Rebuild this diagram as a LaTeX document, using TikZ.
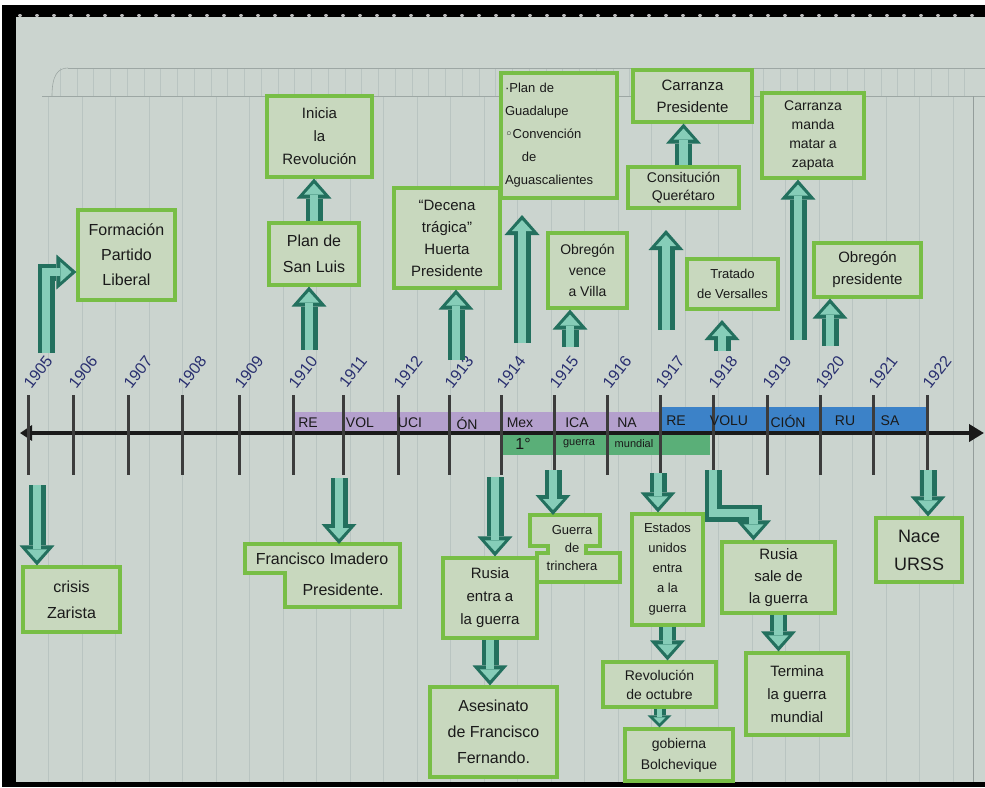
\documentclass[tikz,border=0pt]{standalone}
\usepackage{fontspec}
\setmainfont{Liberation Sans}
\newfontfamily\symf{DejaVu Sans}
\usetikzlibrary{arrows.meta}
\definecolor{paper}{HTML}{CBD4CF}
\definecolor{gridc}{HTML}{B9C4C1}
\definecolor{boxG}{HTML}{78BE46}
\definecolor{boxF}{HTML}{C8D8BE}
\definecolor{tealD}{HTML}{23705E}
\definecolor{tealL}{HTML}{86CDB8}
\definecolor{purp}{HTML}{B4A0CD}
\definecolor{blu}{HTML}{3C82C8}
\definecolor{grn}{HTML}{5AAF78}
\definecolor{ink}{HTML}{1A1A1A}
\definecolor{navy}{HTML}{2A3070}
\tikzset{
  fs/.style 2 args={font=\fontsize{#1}{#2}\selectfont},
  box/.style={draw=boxG, line width=3.2pt, fill=boxF, align=center, inner sep=1pt, text=ink},
  boxline/.style={draw=boxG, line width=3.2pt, fill=boxF, line join=miter},
  fatD/.style={line width=17pt, draw=tealD, -{Triangle[length=20pt,width=35pt,line width=0pt]}},
  fatL/.style={line width=8.5pt, draw=tealL, shorten >=5pt, -{Triangle[length=11pt,width=20pt,line width=0pt]}},
  smD/.style={line width=12pt, draw=tealD, -{Triangle[length=12pt,width=24pt,line width=0pt]}},
  smL/.style={line width=5pt, draw=tealL, shorten >=4pt, -{Triangle[length=6pt,width=12pt,line width=0pt]}},
  year/.style={text=navy, fs={16}{16}, rotate=52, inner sep=0pt},
  tick/.style={draw=ink!85, line width=3pt},
  band/.style={text=ink, fs={14}{14}, inner sep=0pt},
}
\newcommand\fatarrow[1]{\draw[fatD] #1; \draw[fatL] #1;}
\newcommand\smarrow[1]{\draw[smD] #1; \draw[smL] #1;}
\begin{document}
\begin{tikzpicture}[x=1pt,y=-1pt]
\useasboundingbox (0,0) rectangle (985,787);
% frame and paper
\fill[white] (0,0) rectangle (985,787);
\fill[black] (2,5) rectangle (985,787);
\fill[paper] (16,17) rectangle (985,782);
\foreach \k in {0,...,56} {\fill[gray!55] (20+17*\k,15.5) ellipse (2pt and 1.5pt);}
% notebook lines
\foreach \k in {-1,...,26} {\draw[gridc, line width=0.6pt] (82+33.5*\k,96) -- (82+33.5*\k,782);}
\foreach \k in {0,...,54} {\draw[gridc, line width=0.5pt] (60+16.75*\k,68) -- (60+16.75*\k,96);}
\draw[gridc!85!black, line width=0.7pt] (42,96) -- (985,96);
\draw[gridc!85!black, line width=0.6pt] (68,68) -- (985,68);
\draw[gridc!85!black, line width=0.6pt] (52,96) .. controls (52,75) and (58,68) .. (68,68);
\draw[gridc!80!black, line width=0.8pt] (973,96) -- (973,782);
% bands
\fill[purp] (295,412) rectangle (660,433);
\fill[blu] (660,407) rectangle (927,433);
\fill[grn] (503,433) rectangle (710,455);
% axis and ticks
\coordinate (axL) at (20,433);
\coordinate (axR) at (984,433);
\draw[ink, line width=4pt, {Triangle[length=12pt,width=15pt]}-{Triangle[length=15pt,width=17pt]}] (axL) -- (axR);
\foreach \x/\yr in {28/1905,73/1906,128/1907,182/1908,239/1909,293/1910,343/1911,398/1912,449/1913,501/1914,554/1915,607/1916,660/1917,713/1918,767/1919,820/1920,873/1921,927/1922}{
  \draw[tick] (\x,395) -- (\x,475);
  \node[year] (y\yr) at (\x+10,372) {\yr};
}
% band texts
\node[band] (p1) at (308,423) {RE};
\node[band] (p2) at (360,423) {VOL};
\node[band] (p3) at (410,423) {UCI};
\node[band] (p4) at (467,423) {ÓN};
\node[band] (p5) at (520,423) {Mex};
\node[band] (p6) at (577,423) {ICA};
\node[band] (p7) at (627,423) {NA};
\node[band] (b1) at (676,421) {RE};
\node[band] (b2) at (729,421) {VOLU};
\node[band] (b3) at (788,421) {CIÓN};
\node[band] (b4) at (845,421) {RU};
\node[band] (b5) at (890,421) {SA};
\node[band, fs={16}{16}] (g1) at (523,444) {1°};
\node[band, fs={11}{11}] (g2) at (579,444) {guerra};
\node[band, fs={11}{11}] (g3) at (634,444) {mundial};
% boxes above
\node[box, fs={16}{25}, minimum width=97pt, minimum height=90pt] (partido) at (126.5,255) {Formación\\Partido\\Liberal};
\node[box, fs={15}{23}, minimum width=105pt, minimum height=81pt] (inicia) at (319.5,136.5) {Inicia\\la\\Revolución};
\node[box, fs={16}{26}, minimum width=90pt, minimum height=62pt] (sanluis) at (314,254) {Plan de\\San Luis};
\node[box, fs={15}{22}, minimum width=106pt, minimum height=100pt] (decena) at (447,238) {``Decena\\trágica''\\Huerta\\Presidente};
\node[box, fs={13}{23}, align=left, text width=108pt, minimum width=116pt, minimum height=125pt] (guadalupe) at (559,135.5) {·Plan de\\Guadalupe\\{\symf ◦}Convención\\\hspace*{1.3em}de\\Aguascalientes};
\node[box, fs={15}{22}, minimum width=119pt, minimum height=52pt] (carranzap) at (692.5,96) {Carranza\\Presidente};
\node[box, fs={14}{18}, minimum width=111pt, minimum height=41pt] (constitucion) at (683.5,187.5) {Consitución\\Querétaro};
\node[box, fs={14}{21}, minimum width=79pt, minimum height=75pt] (obregonv) at (587.5,270.5) {Obregón\\vence\\a Villa};
\node[box, fs={13}{20}, minimum width=91pt, minimum height=50pt] (tratado) at (732.5,284) {Tratado\\de Versalles};
\node[box, fs={14}{19}, minimum width=102pt, minimum height=85pt] (zapata) at (813,135.5) {Carranza\\manda\\matar a\\zapata};
\node[box, fs={15}{22}, minimum width=107pt, minimum height=54pt] (obregonp) at (867.5,270) {Obregón\\presidente};
% boxes below
\node[box, fs={16}{26}, minimum width=97pt, minimum height=65pt] (crisis) at (71.5,599.5) {crisis\\Zarista};
\draw[boxline] (245,544) -- (400,544) -- (400,607) -- (285,607) -- (285,573) -- (245,573) -- cycle;
\node[text=ink, fs={16}{16}, inner sep=0pt] (francisco) at (322,559) {Francisco Imadero};
\node[text=ink, fs={16}{16}, inner sep=0pt] (francpres) at (343,590) {Presidente.};
\coordinate (francTop) at (339,544);
\draw[boxline] (530,515) -- (600,515) -- (600,546) -- (586,546) -- (586,553) -- (620,553) -- (620,582) -- (537,582) -- (537,553) -- (548,553) -- (548,546) -- (530,546) -- cycle;
\node[text=ink, fs={13}{18}, align=center, inner sep=0pt] (trinchera) at (572,548) {Guerra\\de\\trinchera};
\coordinate (trinTop) at (553,515);
\node[box, fs={15}{23}, minimum width=94pt, minimum height=80pt] (rusiaentra) at (490,598) {Rusia\\entra a\\la guerra};
\node[box, fs={16}{26}, minimum width=127pt, minimum height=90pt] (asesinato) at (493.5,732) {Asesinato\\de Francisco\\Fernando.};
\node[box, fs={13}{20}, minimum width=71pt, minimum height=111pt] (estados) at (667.5,569.5) {Estados\\unidos\\entra\\a la\\guerra};
\node[box, fs={14}{19}, minimum width=113pt, minimum height=45pt] (revolucion) at (659.5,684.5) {Revolución\\de octubre};
\node[box, fs={14}{21}, minimum width=108pt, minimum height=52pt] (gobierna) at (679,755) {gobierna\\Bolchevique};
\node[box, fs={15}{22}, minimum width=113pt, minimum height=71pt] (rusiasale) at (778.5,577.5) {Rusia\\sale de\\la guerra};
\node[box, fs={15}{23}, minimum width=102pt, minimum height=82pt] (termina) at (797,694) {Termina\\la guerra\\mundial};
\node[box, fs={18}{28}, minimum width=86pt, minimum height=64pt] (urss) at (919,550) {Nace\\URSS};
% arrow start/end coordinates
\coordinate (s1905) at (46,353);
\coordinate (s1910) at (309,350);
\coordinate (s1913) at (456,360);
\coordinate (s1914) at (522,343);
\coordinate (e1914) at (522,215);
\coordinate (s1915) at (570,347);
\coordinate (s1917) at (666,330);
\coordinate (e1917) at (666,230);
\coordinate (s1918) at (722,351);
\coordinate (e1918) at (722,320);
\coordinate (s1919) at (798,340);
\coordinate (s1920) at (830,346);
\coordinate (d1905) at (37,485);
\coordinate (d1911) at (339,478);
\coordinate (d1914) at (495,477);
\coordinate (d1915) at (553,470);
\coordinate (d1917) at (658,473);
\coordinate (d1918) at (713,470);
\coordinate (d1922) at (928,470);
% arrows up
\fatarrow{(s1905) |- ([yshift=-17pt]partido.west)}
\fatarrow{(s1910) -- (s1910 |- sanluis.south)}
\fatarrow{(sanluis.north) -- (sanluis.north |- inicia.south)}
\fatarrow{(s1913) -- (s1913 |- decena.south)}
\fatarrow{(s1914) -- (e1914)}
\fatarrow{(s1915) -- (s1915 |- obregonv.south)}
\fatarrow{(s1917) -- (e1917)}
\fatarrow{(constitucion.north) -- (constitucion.north |- carranzap.south)}
\fatarrow{(s1918) -- (e1918)}
\fatarrow{(s1919) -- (s1919 |- zapata.south)}
\fatarrow{(s1920) -- (s1920 |- obregonp.south)}
% arrows down
\fatarrow{(d1905) -- (d1905 |- crisis.north)}
\fatarrow{(d1911) -- (francTop)}
\fatarrow{(d1914) -- (d1914 |- rusiaentra.north)}
\fatarrow{(rusiaentra.south) -- (rusiaentra.south |- asesinato.north)}
\fatarrow{(d1915) -- (trinTop)}
\fatarrow{(d1917) -- (d1917 |- estados.north)}
\fatarrow{(estados.south) -- (estados.south |- revolucion.north)}
\smarrow{(revolucion.south) -- (revolucion.south |- gobierna.north)}
\fatarrow{(d1918) -- ++(0,43) -| ([xshift=-25pt]rusiasale.north)}
\fatarrow{(rusiasale.south) -- (rusiasale.south |- termina.north)}
\fatarrow{(d1922) -- (d1922 |- urss.north)}
\end{tikzpicture}
\end{document}
